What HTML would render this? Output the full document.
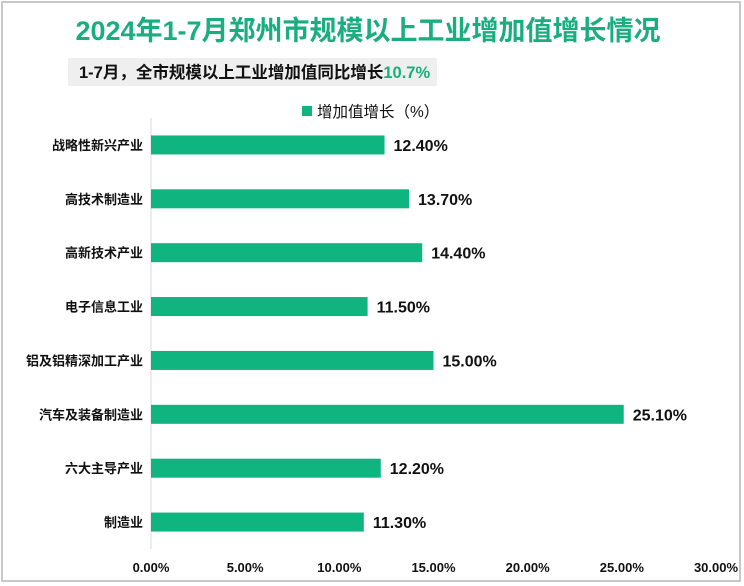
<!DOCTYPE html>
<html><head><meta charset="utf-8"><style>
body{margin:0;width:744px;height:586px;background:#fff;overflow:hidden}
#frame{position:absolute;left:1px;top:1px;border:2px solid #c8c8c8;box-sizing:border-box;width:740px;height:581px}
svg{position:absolute;left:0;top:0}
text{font-family:"Liberation Sans","Noto Sans CJK SC",sans-serif}
</style></head><body>
<div id="frame"></div>
<svg id="c" width="744" height="586">
<text x="368" y="40" text-anchor="middle" font-size="27" font-weight="bold" fill="#1aae7e">2024年1-7月郑州市规模以上工业增加值增长情况</text>
<rect x="68" y="58" width="369" height="28" fill="#efefef"/>
<text x="79" y="78" font-size="16.5" font-weight="bold" fill="#111">1-7月，全市规模以上工业增加值同比增长<tspan fill="#1aae7e">10.7%</tspan></text>
<rect x="302" y="106" width="10" height="10" fill="#0fb47f"/>
<text x="317" y="117" font-size="15.5" fill="#111">增加值增长（%）</text>
<line x1="151" y1="118" x2="151" y2="549" stroke="#d9d9d9"/>
<g id="g"></g>
</svg>
<script>
const categories=["战略性新兴产业","高技术制造业","高新技术产业","电子信息工业","铝及铝精深加工产业","汽车及装备制造业","六大主导产业","制造业"];
const values=[12.4,13.7,14.4,11.5,15.0,25.1,12.2,11.3];
const ticks=[0,5,10,15,20,25,30];
const X0=151,X1=716,XMAX=30,PTOP=118,PBOTTOM=549;
const xs=v=>X0+(X1-X0)*v/XMAX;
const band=(PBOTTOM-PTOP)/categories.length;
const g=document.getElementById('g');
const NS='http://www.w3.org/2000/svg';
function mk(t,a,txt){const e=document.createElementNS(NS,t);for(const k in a)e.setAttribute(k,a[k]);if(txt!==undefined)e.textContent=txt;g.appendChild(e);return e;}
categories.forEach((c,i)=>{
 const cy=PTOP+band*(i+0.5);
 const r=mk('rect',{x:X0,y:cy-9.5,width:xs(values[i])-X0,height:19,fill:'#0fb47f'});
 
 
 const l=mk('text',{x:X0-8,y:cy+5,'text-anchor':'end','font-size':13,'font-weight':'bold',fill:'#111'},c);
 
 
 const v=mk('text',{x:xs(values[i])+9,y:cy+6,'font-size':16,'font-weight':'bold',fill:'#111'},values[i].toFixed(2)+'%');
 
 
});
ticks.forEach(t=>{
 const e=mk('text',{x:xs(t),y:572,'text-anchor':'middle','font-size':13,'font-weight':'bold',fill:'#111'},t.toFixed(2)+'%');
 
 
});
</script>
</body></html>
